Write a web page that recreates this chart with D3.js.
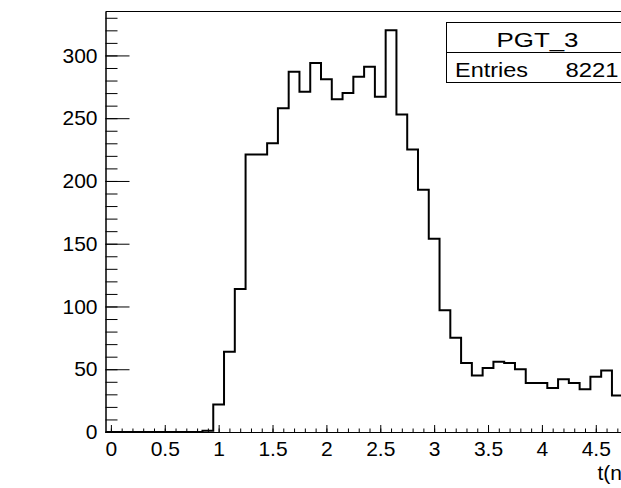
<!DOCTYPE html>
<html>
<head>
<meta charset="utf-8">
<script src="https://cdn.jsdelivr.net/npm/d3@7"></script>
<style>
  body { margin: 0; background: #fff; }
  svg { display: block; font-family: "Liberation Sans", Arial, sans-serif; }
  .axis text { font-size: 21px; fill: #000; }
  .axis path, .axis line { stroke: #000; }
</style>
</head>
<body>
<svg id="chart" width="621" height="488"></svg>
<script>
(function() {

    // histogram PGT_3, bin width 0.1 starting at -0.05
    var binStart = -0.05;
    var binWidth = 0.1;
    var counts = [
        0, 0, 0, 0, 0, 0, 0, 0, 0, 1,
        22, 64, 114, 221, 221, 230, 258, 287, 271, 294,
        281, 265, 270, 283, 291, 267, 320, 253, 225, 193,
        154, 97, 75, 55, 45, 51, 56, 55, 50, 39,
        39, 35, 42, 39, 34, 44, 49, 29, 30
    ];
    var xMajor = [0, 0.5, 1, 1.5, 2, 2.5, 3, 3.5, 4, 4.5];
    var yMajor = [0, 50, 100, 150, 200, 250, 300];
    var histName = "PGT_3";
    var entries = 8221;
    var xTitle = "t(ns)";

    var svg = d3.select("#chart");

    var left = 105.5, right = 633.5, top = 11.5, bottom = 432;
    var xMax = binStart + counts.length * binWidth;

    var x = d3.scaleLinear().domain([binStart, xMax]).range([left, right]);
    var y = d3.scaleLinear().domain([0, 335]).range([bottom, top]);

    // minor ticks
    var xMinor = d3.range(0, xMax, 0.1);
    var yMinor = d3.range(0, 335, 10);

    svg.append("g")
        .attr("class", "axis")
        .attr("transform", "translate(0," + bottom + ")")
        .call(d3.axisBottom(x).tickValues(xMinor).tickSizeInner(-3.5).tickSizeOuter(0).tickFormat(""));

    svg.append("g")
        .attr("class", "axis")
        .attr("transform", "translate(0," + bottom + ")")
        .call(d3.axisBottom(x).tickValues(xMajor).tickSizeInner(-7).tickSizeOuter(0).tickPadding(9)
            .tickFormat(d3.format("")));

    svg.append("g")
        .attr("class", "axis")
        .attr("transform", "translate(" + left + ",0)")
        .call(d3.axisLeft(y).tickValues(yMinor).tickSizeInner(-12).tickSizeOuter(0).tickFormat(""));

    svg.append("g")
        .attr("class", "axis")
        .attr("transform", "translate(" + left + ",0)")
        .call(d3.axisLeft(y).tickValues(yMajor).tickSizeInner(-24).tickSizeOuter(0).tickPadding(8));

    // frame top and right
    svg.append("path")
        .attr("d", "M" + left + "," + top + "H" + right + "V" + bottom)
        .attr("fill", "none")
        .attr("stroke", "#000")
        .attr("stroke-width", 1);

    // histogram step line
    var pts = [[binStart, 0]];
    counts.forEach(function(c, i) {
        var lo = binStart + i * binWidth;
        pts.push([lo, c]);
        pts.push([lo + binWidth, c]);
    });
    pts.push([xMax, 0]);

    var line = d3.line()
        .x(function(d) { return x(d[0]); })
        .y(function(d) { return y(d[1]); });

    svg.append("path")
        .datum(pts)
        .attr("d", line)
        .attr("fill", "none")
        .attr("stroke", "#000")
        .attr("stroke-width", 2);

    // axis title, cut at the window edge like the reference
    svg.append("text")
        .attr("x", right + 6)
        .attr("y", 480)
        .attr("text-anchor", "end")
        .style("font-size", "21px")
        .text(xTitle);

    // stats box
    var box = svg.append("g").attr("transform", "translate(446.5,22.5)");
    box.append("rect")
        .attr("width", 182)
        .attr("height", 60)
        .attr("fill", "#fff")
        .attr("stroke", "#000");
    box.append("line")
        .attr("x1", 0).attr("x2", 182)
        .attr("y1", 30).attr("y2", 30)
        .attr("stroke", "#000");
    box.append("text")
        .attr("x", 91)
        .attr("y", 24.5)
        .attr("text-anchor", "middle")
        .attr("textLength", 82)
        .attr("lengthAdjust", "spacingAndGlyphs")
        .style("font-size", "21px")
        .text(histName);
    box.append("text")
        .attr("x", 8.5)
        .attr("y", 54)
        .attr("textLength", 73)
        .attr("lengthAdjust", "spacingAndGlyphs")
        .style("font-size", "20px")
        .text("Entries");
    box.append("text")
        .attr("x", 172)
        .attr("y", 54)
        .attr("text-anchor", "end")
        .attr("textLength", 53)
        .attr("lengthAdjust", "spacingAndGlyphs")
        .style("font-size", "20px")
        .text(entries);

})();
</script>
</body>
</html>
